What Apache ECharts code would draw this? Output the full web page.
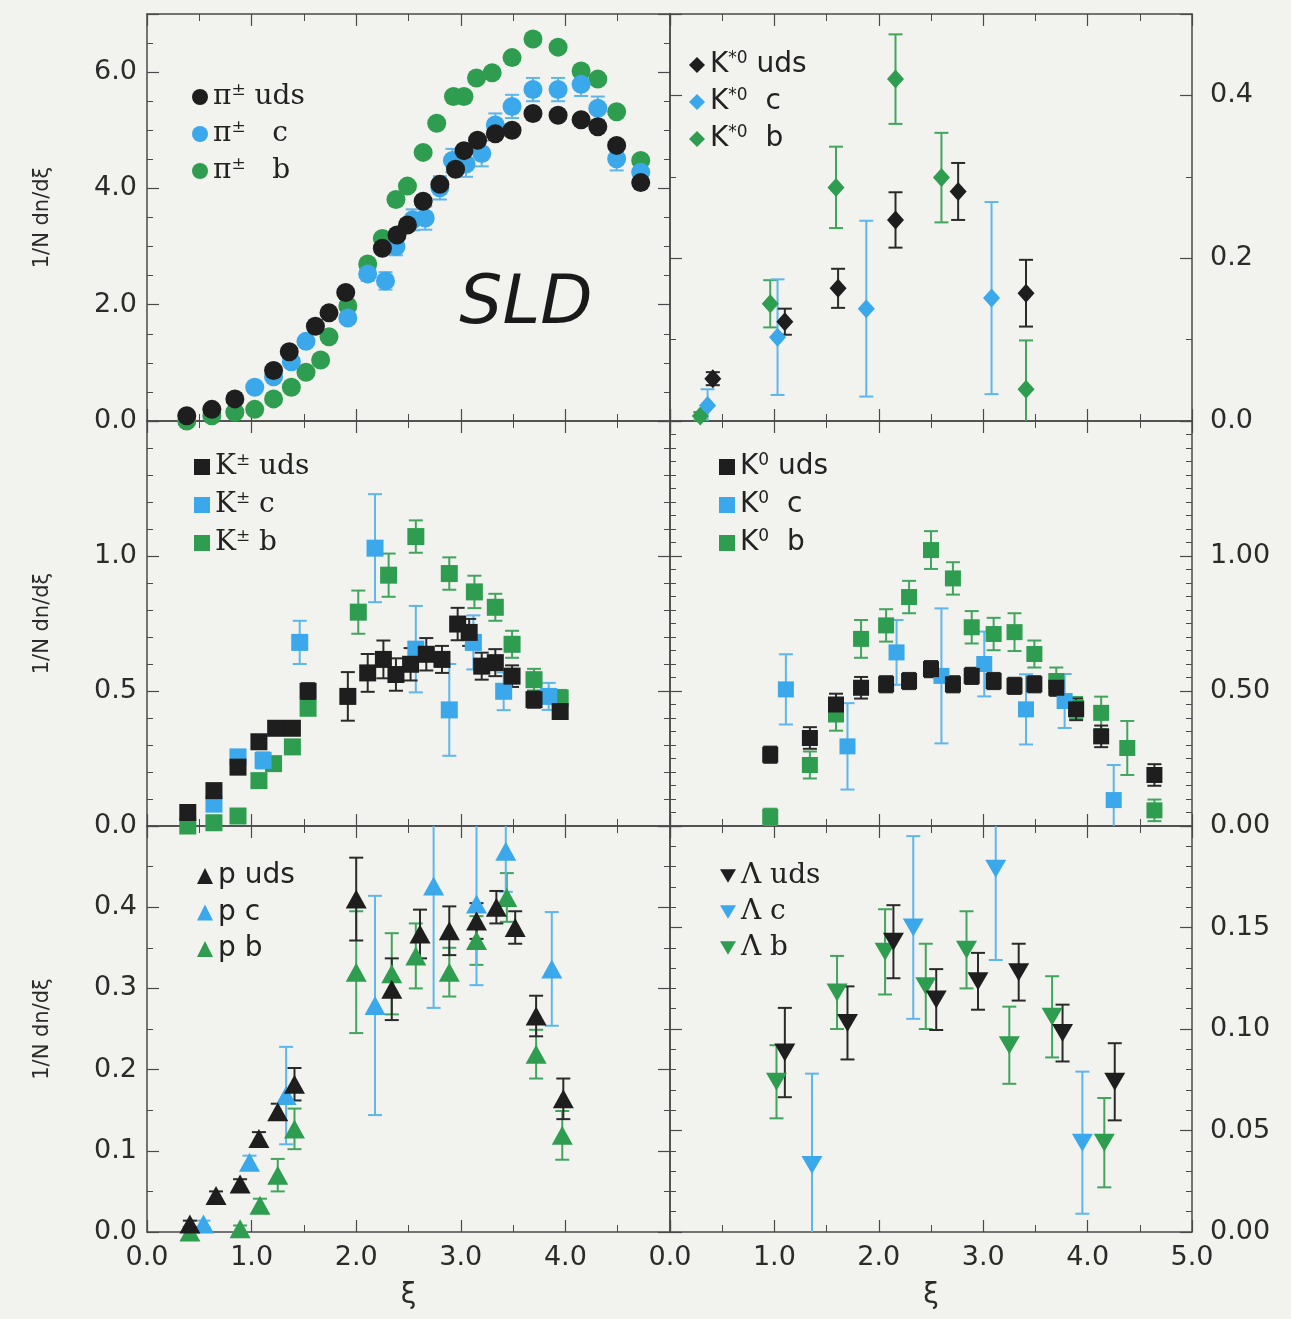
<!DOCTYPE html>
<html><head><meta charset="utf-8">
<script src="https://cdn.jsdelivr.net/npm/echarts@6/dist/echarts.min.js"></script>
<style>html,body{margin:0;padding:0;background:#f2f2ee;}#c{width:1291px;height:1319px;}</style>
</head><body><div id="c"></div>
<script>
// ---- data: [xi, value, error] ----
const piUds = [[0.38,0.09,0.02],[0.62,0.20,0.02],[0.84,0.38,0.02],[1.21,0.87,0.03],[1.36,1.19,0.03],[1.61,1.63,0.04],[1.74,1.86,0.04],[1.90,2.21,0.05],[2.25,2.97,0.06],[2.39,3.20,0.06],[2.49,3.37,0.06],[2.64,3.78,0.07],[2.80,4.07,0.07],[2.95,4.33,0.08],[3.03,4.65,0.08],[3.16,4.83,0.08],[3.33,4.94,0.08],[3.49,5.00,0.08],[3.69,5.29,0.08],[3.93,5.26,0.08],[4.15,5.18,0.08],[4.31,5.06,0.08],[4.49,4.74,0.08],[4.72,4.10,0.08]];
const piC = [[1.03,0.58,0.03],[1.21,0.76,0.03],[1.38,1.02,0.04],[1.52,1.37,0.05],[1.92,1.77,0.06],[2.11,2.53,0.12],[2.28,2.41,0.15],[2.38,3.00,0.15],[2.54,3.46,0.18],[2.66,3.49,0.20],[2.80,4.01,0.20],[2.92,4.48,0.20],[3.05,4.42,0.22],[3.20,4.60,0.22],[3.33,5.09,0.20],[3.49,5.41,0.20],[3.69,5.70,0.20],[3.93,5.70,0.20],[4.15,5.79,0.20],[4.31,5.38,0.20],[4.49,4.51,0.20],[4.72,4.28,0.20]];
const piB = [[0.38,0.00,0.02],[0.62,0.09,0.02],[0.84,0.15,0.02],[1.03,0.20,0.02],[1.21,0.38,0.03],[1.38,0.58,0.03],[1.52,0.84,0.03],[1.66,1.05,0.04],[1.74,1.45,0.04],[1.92,1.98,0.05],[2.11,2.70,0.06],[2.25,3.14,0.06],[2.38,3.81,0.07],[2.49,4.04,0.07],[2.64,4.62,0.07],[2.77,5.12,0.08],[2.93,5.58,0.08],[3.03,5.58,0.08],[3.15,5.90,0.08],[3.30,5.99,0.08],[3.49,6.25,0.08],[3.69,6.57,0.08],[3.93,6.43,0.08],[4.15,6.02,0.08],[4.31,5.88,0.08],[4.49,5.32,0.08],[4.72,4.48,0.08]];

const kstUds = [[0.41,0.052,0.008],[1.10,0.122,0.016],[1.61,0.163,0.024],[2.16,0.247,0.034],[2.76,0.282,0.035],[3.41,0.157,0.041]];
const kstC = [[0.36,0.019,0.020],[1.03,0.103,0.071],[1.88,0.138,0.108],[3.08,0.151,0.118]];
const kstB = [[0.29,0.006,0.005],[0.96,0.144,0.029],[1.59,0.287,0.050],[2.16,0.420,0.055],[2.60,0.299,0.055],[3.41,0.039,0.060]];

const kchUds = [[0.39,0.050,0.01],[0.64,0.131,0.01],[0.87,0.218,0.012],[1.07,0.312,0.015],[1.23,0.362,0.015],[1.39,0.362,0.015],[1.54,0.499,0.03],[1.92,0.480,0.09],[2.11,0.567,0.07],[2.26,0.617,0.07],[2.38,0.561,0.06],[2.52,0.599,0.06],[2.67,0.636,0.06],[2.82,0.617,0.05],[2.97,0.748,0.06],[3.08,0.717,0.05],[3.20,0.592,0.05],[3.33,0.605,0.05],[3.49,0.555,0.04],[3.70,0.468,0.03],[3.95,0.424,0.02]];
const kchC = [[0.64,0.081,0.01],[0.87,0.256,0.02],[1.11,0.243,0.03],[1.46,0.680,0.08],[2.18,1.029,0.20],[2.57,0.655,0.16],[2.89,0.430,0.17],[3.12,0.680,0.10],[3.41,0.499,0.07],[3.84,0.480,0.05]];
const kchB = [[0.39,0.000,0.005],[0.64,0.012,0.005],[0.87,0.037,0.008],[1.07,0.168,0.01],[1.21,0.231,0.012],[1.39,0.293,0.015],[1.54,0.436,0.02],[2.02,0.792,0.08],[2.31,0.929,0.08],[2.57,1.072,0.06],[2.89,0.935,0.06],[3.13,0.867,0.06],[3.33,0.810,0.05],[3.49,0.673,0.05],[3.70,0.542,0.04],[3.95,0.474,0.03]];

const k0Uds = [[0.96,0.264,0.03],[1.34,0.326,0.04],[1.59,0.450,0.04],[1.83,0.512,0.04],[2.07,0.525,0.03],[2.29,0.537,0.03],[2.50,0.581,0.03],[2.71,0.525,0.03],[2.89,0.556,0.03],[3.10,0.537,0.03],[3.30,0.519,0.03],[3.49,0.525,0.03],[3.70,0.512,0.03],[3.89,0.432,0.04],[4.13,0.332,0.04],[4.64,0.189,0.04]];
const k0C = [[1.11,0.506,0.13],[1.70,0.295,0.16],[2.17,0.643,0.12],[2.60,0.556,0.25],[3.01,0.600,0.12],[3.41,0.432,0.13],[3.78,0.463,0.10],[4.25,0.096,0.13]];
const k0B = [[0.96,0.034,0.03],[1.34,0.226,0.05],[1.59,0.413,0.06],[1.83,0.693,0.07],[2.07,0.743,0.06],[2.29,0.848,0.06],[2.50,1.022,0.07],[2.71,0.917,0.06],[2.89,0.736,0.06],[3.10,0.711,0.06],[3.30,0.718,0.07],[3.49,0.637,0.05],[3.70,0.537,0.05],[3.89,0.438,0.04],[4.13,0.419,0.06],[4.38,0.289,0.10],[4.64,0.058,0.04]];

const pUds = [[0.41,0.010,0.004],[0.66,0.045,0.005],[0.89,0.059,0.006],[1.07,0.115,0.008],[1.25,0.148,0.01],[1.41,0.182,0.02],[2.00,0.410,0.051],[2.34,0.299,0.038],[2.61,0.367,0.03],[2.89,0.371,0.03],[3.15,0.383,0.022],[3.34,0.400,0.02],[3.52,0.375,0.02],[3.72,0.266,0.025],[3.98,0.164,0.025]];
const pC = [[0.54,0.010,0.004],[0.98,0.086,0.008],[1.33,0.168,0.06],[2.18,0.279,0.135],[2.74,0.426,0.15],[3.15,0.404,0.10],[3.43,0.469,0.05],[3.87,0.324,0.07]];
const pB = [[0.41,0.000,0.003],[0.89,0.004,0.004],[1.08,0.033,0.008],[1.25,0.070,0.02],[1.41,0.127,0.025],[2.00,0.320,0.075],[2.34,0.318,0.05],[2.57,0.340,0.04],[2.89,0.320,0.03],[3.15,0.359,0.03],[3.44,0.412,0.03],[3.72,0.219,0.03],[3.97,0.119,0.03]];

const lamUds = [[1.10,0.0884,0.022],[1.70,0.103,0.018],[2.14,0.143,0.018],[2.55,0.1145,0.015],[2.95,0.1235,0.014],[3.34,0.128,0.014],[3.76,0.098,0.014],[4.26,0.074,0.019]];
const lamC = [[1.36,0.033,0.045],[2.33,0.150,0.045],[3.12,0.179,0.045],[3.95,0.044,0.035]];
const lamB = [[1.02,0.074,0.018],[1.60,0.118,0.018],[2.06,0.138,0.021],[2.45,0.121,0.021],[2.84,0.139,0.019],[3.25,0.092,0.019],[3.66,0.106,0.02],[4.16,0.044,0.022]];

// ---- styling ----
const BLACK = '#1e1e1e', BLUE = '#3aa8ea', GREEN = '#2f9d50';
const EBLACK = '#2a2a2a', EBLUE = '#5db6ee', EGREEN = '#42a55e';
const AX = '#4a4a4a';
const SANS = 'DejaVu Sans', SERIF = 'DejaVu Serif';
const DOWN = 'path://M0,0L20,0L10,17Z';

const legendRich = {
  'π± uds':'{m|π}{s|±}{m| uds}', 'π± c':'{m|π}{s|±}{m|   c}', 'π± b':'{m|π}{s|±}{m|   b}',
  'K*0 uds':'{m|K}{s|*0}{m| uds}', 'K*0 c':'{m|K}{s|*0}{m|  c}', 'K*0 b':'{m|K}{s|*0}{m|  b}',
  'K± uds':'{m|K}{s|±}{m| uds}', 'K± c':'{m|K}{s|±}{m| c}', 'K± b':'{m|K}{s|±}{m| b}',
  'K0 uds':'{m|K}{s|0}{m| uds}', 'K0 c':'{m|K}{s|0}{m|  c}', 'K0 b':'{m|K}{s|0}{m|  b}',
  'p uds':'{m|p uds}', 'p c':'{m|p c}', 'p b':'{m|p b}',
  'Λ uds':'{m|Λ uds}', 'Λ c':'{m|Λ c}', 'Λ b':'{m|Λ b}'
};

const panels = [
  {rect:[147,14,523,407], y:[0,7,2,4,1], side:'left', row:0, leg:[200,97,38], font:SERIF, sym:'circle', size:19,
   ser:[['π± uds',piUds,BLACK,EBLACK],['π± c',piC,BLUE,EBLUE],['π± b',piB,GREEN,EGREEN]]},
  {rect:[670,14,522,407], y:[0,0.5,0.2,2,1], side:'right', row:0, leg:[697,65,38], font:SANS, sym:'diamond', size:[17,19],
   ser:[['K*0 uds',kstUds,BLACK,EBLACK],['K*0 c',kstC,BLUE,EBLUE],['K*0 b',kstB,GREEN,EGREEN]]},
  {rect:[147,421,523,405], y:[0,1.5,0.5,5,1], side:'left', row:1, leg:[202,467,39], font:SERIF, sym:'rect', size:17,
   ser:[['K± uds',kchUds,BLACK,EBLACK],['K± c',kchC,BLUE,EBLUE],['K± b',kchB,GREEN,EGREEN]]},
  {rect:[670,421,522,405], y:[0,1.5,0.5,10,2], side:'right', row:1, leg:[727,467,39], font:SANS, sym:'rect', size:16,
   ser:[['K0 uds',k0Uds,BLACK,EBLACK],['K0 c',k0C,BLUE,EBLUE],['K0 b',k0B,GREEN,EGREEN]]},
  {rect:[147,826,523,406], y:[0,0.5,0.1,2,1], side:'left', row:2, leg:[205,877,38.5], font:SANS, sym:'triangle', size:[21,19],
   ser:[['p uds',pUds,BLACK,EBLACK],['p c',pC,BLUE,EBLUE],['p b',pB,GREEN,EGREEN]]},
  {rect:[670,826,522,406], y:[0,0.2,0.05,5,2], side:'right', row:2, leg:[728,877,38], font:SERIF, sym:DOWN, size:[21,18],
   ser:[['Λ uds',lamUds,BLACK,EBLACK],['Λ c',lamC,BLUE,EBLUE],['Λ b',lamB,GREEN,EGREEN]]}
];

function makeErr(color){
  return function(params, api){
    const cs = params.coordSys;
    const x = api.value(0);
    const lo = api.coord([x, api.value(1)]);
    const hi = api.coord([x, api.value(2)]);
    const top = cs.y, bot = cs.y + cs.height;
    const y1 = hi[1], y2 = lo[1];
    const yy1 = Math.max(top, y1), yy2 = Math.min(bot, y2);
    const st = {stroke: color, lineWidth: 2};
    const hw = 7;
    const ch = [{type:'line', shape:{x1:hi[0], y1:yy1, x2:hi[0], y2:yy2}, style:st}];
    if (y1 >= top) ch.push({type:'line', shape:{x1:hi[0]-hw, y1:y1, x2:hi[0]+hw, y2:y1}, style:st});
    if (y2 <= bot) ch.push({type:'line', shape:{x1:lo[0]-hw, y1:y2, x2:lo[0]+hw, y2:y2}, style:st});
    return {type:'group', children: ch};
  };
}

const option = {backgroundColor:'#f2f2ee', animation:false, grid:[], xAxis:[], yAxis:[], legend:[], series:[], graphic:[]};

panels.forEach((p, gi) => {
  option.grid.push({left:p.rect[0], top:p.rect[1], width:p.rect[2], height:p.rect[3], containLabel:false, outerBoundsMode:'none'});
  const bottomRow = p.row === 2;
  const xi = option.xAxis.length;
  ['bottom','top'].forEach(pos => {
    const showLab = pos === 'bottom' && bottomRow;
    const ax = {
      type:'value', gridIndex:gi, position:pos, min:0, max:5, interval:1,
      axisLine:{show:true, onZero:false, lineStyle:{color:AX, width:1.5}},
      axisTick:{show:true, inside:true, length:12, lineStyle:{color:AX, width:1.2}},
      minorTick:{show:true, splitNumber:2, length:7, lineStyle:{color:AX, width:1}},
      splitLine:{show:false},
      axisLabel:{show:showLab, margin:12, fontSize:27, fontFamily:SANS, color:'#2b2b2b',
        formatter: v => (p.side === 'left' && v > 4.5) ? '' : v.toFixed(1)}
    };
    if (showLab) {
      ax.name = 'ξ'; ax.nameLocation = 'middle'; ax.nameGap = 50;
      ax.nameTextStyle = {fontSize:28, fontFamily:SANS, color:'#2b2b2b'};
    }
    option.xAxis.push(ax);
  });
  const yi = option.yAxis.length;
  ['left','right'].forEach(pos => {
    const showLab = pos === p.side;
    const [ymin, ymax, yint, ysplit, ydec] = p.y;
    const ax = {
      type:'value', gridIndex:gi, position:pos, min:ymin, max:ymax, interval:yint,
      axisLine:{show:true, onZero:false, lineStyle:{color:AX, width:1.5}},
      axisTick:{show:true, inside:true, length:12, lineStyle:{color:AX, width:1.2}},
      minorTick:{show:true, splitNumber:ysplit, length:6, lineStyle:{color:AX, width:1}},
      splitLine:{show:false},
      axisLabel:{show:showLab, margin: pos === 'left' ? 10 : 18, fontSize:27, fontFamily:SANS, color:'#2b2b2b',
        formatter: v => (Math.abs(v - ymax) < 1e-9) ? '' : v.toFixed(ydec)}
    };
    if (showLab && pos === 'left') {
      ax.name = '1/N dn/dξ'; ax.nameLocation = 'middle'; ax.nameGap = 94; ax.nameRotate = 90;
      ax.nameTextStyle = {fontSize:21, fontFamily:SANS, color:'#2b2b2b'};
    }
    option.yAxis.push(ax);
  });
  // error bars
  p.ser.slice().reverse().forEach(s => {
    option.series.push({
      type:'custom', name:s[0] + ' err', xAxisIndex:xi, yAxisIndex:yi, silent:true, z:1,
      data: s[1].map(d => [d[0], d[1] - d[2], d[1] + d[2]]),
      encode:{x:0, y:[1,2]}, renderItem: makeErr(s[3])
    });
  });
  // markers (b, c, uds order so uds is on top)
  p.ser.slice().reverse().forEach(s => {
    option.series.push({
      type:'scatter', name:s[0], xAxisIndex:xi, yAxisIndex:yi, z:3,
      symbol:p.sym, symbolSize:p.size, itemStyle:{color:s[2], opacity:1},
      data: s[1].map(d => [d[0], d[1]])
    });
  });
  option.legend.push({
    orient:'vertical', left:p.leg[0] - 8, top:p.leg[1] - 15, itemGap:p.leg[2] - 30,
    itemWidth:16, itemHeight:16, padding:0, selectedMode:false,
    data: p.ser.map(s => ({name:s[0]})),
    formatter: n => legendRich[n],
    textStyle:{rich:{
      m:{fontFamily:p.font, fontSize:28, lineHeight:30, color:'#222'},
      s:{fontFamily:p.font, fontSize:17, lineHeight:16, verticalAlign:'top', color:'#222'}
    }}
  });
});

option.graphic.push({type:'text', x:526, y:305, style:{text:'SLD', font:'italic 68px "DejaVu Sans"', fill:'#1a1a1a', textAlign:'center', textVerticalAlign:'middle'}});

const chart = echarts.init(document.getElementById('c'), null, {renderer:'canvas'});
chart.setOption(option);
</script></body></html>
